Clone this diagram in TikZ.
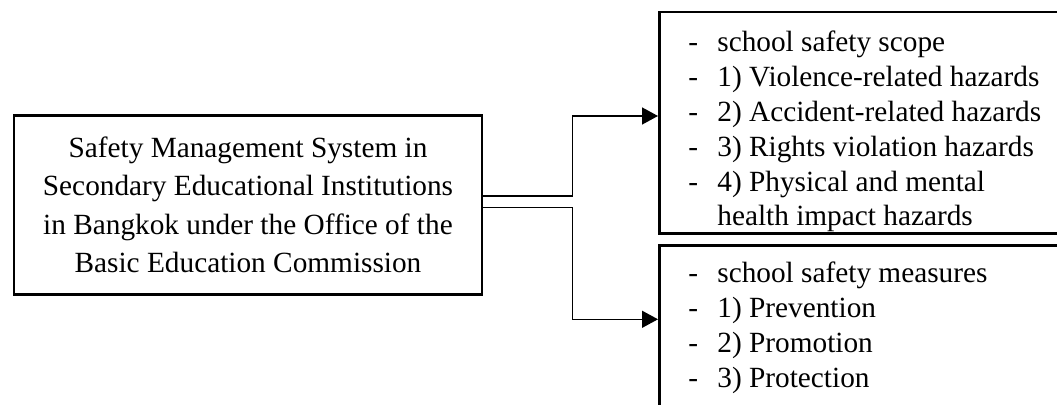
\documentclass[tikz,border=0pt]{standalone}
\usepackage{fontspec}
\setmainfont{Liberation Serif}
\usetikzlibrary{arrows.meta}
\begin{document}
\begin{tikzpicture}[x=0.5pt,y=-0.5pt,
  box/.style={draw,line width=1.3pt,rectangle,inner sep=0pt,anchor=north west},
  conn/.style={draw,line width=0.75pt,-{Triangle[length=8pt,width=8.5pt]}},
  lefttext/.style={align=center,inner sep=0pt,font=\fontsize{14.65pt}{19.2pt}\selectfont},
  listtext/.style={inner sep=0pt,anchor=base west,font=\fontsize{14.65pt}{17.4pt}\selectfont}]
\useasboundingbox (0,0) rectangle (1057,405);
\clip (0,0) rectangle (1057,405);
\node[box,minimum width=234pt,minimum height=89.5pt] (L) at (12.7,114) {};
\node[lefttext] (Lt) at (L.center) {Safety Management System in\\Secondary Educational Institutions\\in Bangkok under the Office of the\\Basic Education Commission};
\node[box,minimum width=220pt,minimum height=110.7pt] (T) at (658,10.7) {};
\node[box,minimum width=220pt,minimum height=88pt] (B) at (658,244) {};
\node[listtext] (Tt) at (688,52) {\renewcommand{\arraystretch}{1}\begin{tabular}[t]{@{}p{14.5pt}@{}l@{}}
-&school safety scope\\
-&1) Violence-related hazards\\
-&2) Accident-related hazards\\
-&3) Rights violation hazards\\
-&4) Physical and mental\\
&health impact hazards
\end{tabular}};
\node[listtext] (Bt) at (688,283) {\renewcommand{\arraystretch}{1}\begin{tabular}[t]{@{}p{14.5pt}@{}l@{}}
-&school safety measures\\
-&1) Prevention\\
-&2) Promotion\\
-&3) Protection
\end{tabular}};
\draw[conn] ([yshift=4.4pt]L.east) -- ++(89,0) |- ([yshift=3.35pt]T.west);
\draw[conn] ([yshift=-1.25pt]L.east) -- ++(89,0) |- ([yshift=7pt]B.west);
\end{tikzpicture}
\end{document}
